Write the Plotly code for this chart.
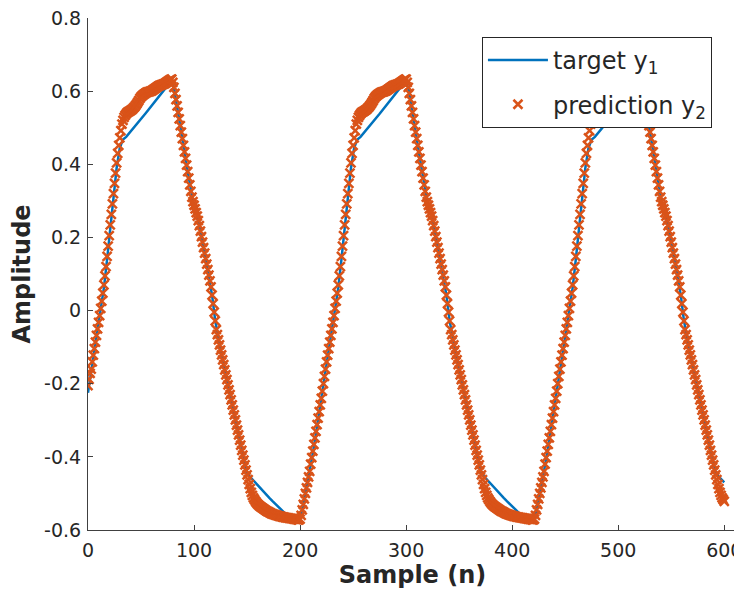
import plotly.graph_objects as go

# sample index n (0..600), one prediction value per sample
sample = list(range(601))

# prediction y2, first period (n = 0..199)
pred_1 = [
    -0.205, -0.188, -0.172, -0.160, -0.140, -0.122, -0.104, -0.086, -0.068, -0.050,
    -0.032, -0.014, 0.006, 0.026, 0.048, 0.070, 0.095, 0.120, 0.148, 0.176,
    0.205, 0.234, 0.263, 0.292, 0.320, 0.348, 0.376, 0.404, 0.430, 0.452,
    0.472, 0.492, 0.510, 0.520, 0.528, 0.534, 0.538, 0.541, 0.543, 0.545,
    0.547, 0.549, 0.551, 0.554, 0.557, 0.561, 0.565, 0.570, 0.575, 0.580,
    0.584, 0.587, 0.590, 0.592, 0.594, 0.596, 0.597, 0.598, 0.599, 0.600,
    0.601, 0.603, 0.605, 0.607, 0.609, 0.611, 0.613, 0.615, 0.616, 0.617,
    0.618, 0.619, 0.620, 0.622, 0.624, 0.626, 0.628, 0.630, 0.632, 0.633,
    0.624, 0.610, 0.594, 0.577, 0.560, 0.542, 0.524, 0.506, 0.488, 0.470,
    0.452, 0.434, 0.416, 0.398, 0.380, 0.362, 0.344, 0.326, 0.310, 0.298,
    0.288, 0.278, 0.268, 0.258, 0.246, 0.232, 0.217, 0.202, 0.187, 0.172,
    0.157, 0.142, 0.127, 0.112, 0.097, 0.081, 0.065, 0.042, 0.019, -0.004,
    -0.028, -0.052, -0.066, -0.080, -0.094, -0.108, -0.121, -0.135, -0.148, -0.162,
    -0.176, -0.189, -0.203, -0.217, -0.230, -0.244, -0.258, -0.272, -0.285, -0.299,
    -0.313, -0.327, -0.340, -0.354, -0.368, -0.382, -0.395, -0.409, -0.422, -0.436,
    -0.449, -0.462, -0.475, -0.487, -0.497, -0.505, -0.512, -0.517, -0.522, -0.526,
    -0.529, -0.532, -0.535, -0.537, -0.539, -0.541, -0.543, -0.545, -0.547, -0.549,
    -0.550, -0.552, -0.553, -0.555, -0.556, -0.557, -0.558, -0.559, -0.560, -0.561,
    -0.562, -0.563, -0.563, -0.564, -0.565, -0.565, -0.566, -0.566, -0.567, -0.567,
    -0.568, -0.568, -0.569, -0.569, -0.570, -0.570, -0.571, -0.571, -0.572, -0.572,
]

# second period (n = 200..420)
pred_2 = [
    -0.570, -0.560, -0.545, -0.530, -0.515, -0.500, -0.485, -0.470, -0.455, -0.440,
    -0.420, -0.402, -0.384, -0.366, -0.348, -0.330, -0.312, -0.294, -0.276, -0.258,
    -0.240, -0.220, -0.200, -0.180, -0.160, -0.140, -0.122, -0.104, -0.086, -0.068,
    -0.050, -0.032, -0.014, 0.006, 0.026, 0.048, 0.070, 0.095, 0.120, 0.148,
    0.176, 0.205, 0.234, 0.263, 0.292, 0.320, 0.348, 0.376, 0.404, 0.430,
    0.452, 0.472, 0.492, 0.510, 0.520, 0.528, 0.534, 0.538, 0.541, 0.543,
    0.545, 0.547, 0.549, 0.551, 0.554, 0.557, 0.561, 0.565, 0.570, 0.575,
    0.580, 0.584, 0.587, 0.590, 0.592, 0.594, 0.596, 0.597, 0.598, 0.599,
    0.600, 0.601, 0.603, 0.605, 0.607, 0.609, 0.611, 0.613, 0.615, 0.616,
    0.617, 0.618, 0.619, 0.620, 0.622, 0.624, 0.626, 0.628, 0.630, 0.632,
    0.633, 0.624, 0.610, 0.594, 0.577, 0.560, 0.542, 0.524, 0.506, 0.488,
    0.470, 0.452, 0.434, 0.416, 0.398, 0.380, 0.362, 0.344, 0.326, 0.310,
    0.298, 0.288, 0.278, 0.268, 0.258, 0.246, 0.232, 0.217, 0.202, 0.187,
    0.172, 0.157, 0.142, 0.127, 0.112, 0.097, 0.081, 0.065, 0.042, 0.019,
    -0.004, -0.028, -0.052, -0.066, -0.080, -0.094, -0.108, -0.121, -0.135, -0.148,
    -0.162, -0.176, -0.189, -0.203, -0.217, -0.230, -0.244, -0.258, -0.272, -0.285,
    -0.299, -0.313, -0.327, -0.340, -0.354, -0.368, -0.382, -0.395, -0.409, -0.422,
    -0.436, -0.449, -0.462, -0.475, -0.487, -0.497, -0.505, -0.512, -0.517, -0.522,
    -0.526, -0.529, -0.532, -0.535, -0.537, -0.539, -0.541, -0.543, -0.545, -0.547,
    -0.549, -0.550, -0.552, -0.553, -0.555, -0.556, -0.557, -0.558, -0.559, -0.560,
    -0.561, -0.562, -0.563, -0.563, -0.564, -0.565, -0.565, -0.566, -0.566, -0.567,
    -0.567, -0.568, -0.568, -0.569, -0.569, -0.570, -0.570, -0.571, -0.571, -0.572,
    -0.572,
]

# third period (n = 421..600)
pred_3 = [
    -0.570, -0.560, -0.545, -0.530, -0.515, -0.500, -0.485, -0.470, -0.455, -0.440,
    -0.420, -0.402, -0.384, -0.366, -0.348, -0.330, -0.312, -0.294, -0.276, -0.258,
    -0.240, -0.220, -0.200, -0.180, -0.160, -0.140, -0.122, -0.104, -0.086, -0.068,
    -0.050, -0.032, -0.014, 0.006, 0.026, 0.048, 0.070, 0.095, 0.120, 0.148,
    0.176, 0.205, 0.234, 0.263, 0.292, 0.320, 0.348, 0.376, 0.404, 0.430,
    0.452, 0.472, 0.492, 0.510, 0.520, 0.528, 0.534, 0.538, 0.541, 0.543,
    0.545, 0.547, 0.549, 0.551, 0.554, 0.557, 0.561, 0.565, 0.570, 0.575,
    0.580, 0.584, 0.587, 0.590, 0.592, 0.594, 0.596, 0.597, 0.598, 0.599,
    0.600, 0.601, 0.603, 0.605, 0.607, 0.609, 0.611, 0.613, 0.615, 0.616,
    0.617, 0.618, 0.619, 0.620, 0.622, 0.624, 0.626, 0.628, 0.630, 0.632,
    0.633, 0.624, 0.610, 0.594, 0.577, 0.560, 0.542, 0.524, 0.506, 0.488,
    0.470, 0.452, 0.434, 0.416, 0.398, 0.380, 0.362, 0.344, 0.326, 0.310,
    0.298, 0.288, 0.278, 0.268, 0.258, 0.246, 0.232, 0.217, 0.202, 0.187,
    0.172, 0.157, 0.142, 0.127, 0.112, 0.097, 0.081, 0.065, 0.042, 0.019,
    -0.004, -0.028, -0.052, -0.066, -0.080, -0.094, -0.108, -0.121, -0.135, -0.148,
    -0.162, -0.176, -0.189, -0.203, -0.217, -0.230, -0.244, -0.258, -0.272, -0.285,
    -0.299, -0.313, -0.327, -0.340, -0.354, -0.368, -0.382, -0.395, -0.409, -0.422,
    -0.436, -0.449, -0.462, -0.475, -0.487, -0.497, -0.505, -0.512, -0.517, -0.522,
]

prediction = pred_1 + pred_2 + pred_3

# target y1, read every 3rd sample (period by period) plus the last sample
target_n = list(range(0, 200, 3)) + list(range(200, 421, 3)) + list(range(421, 599, 3)) + [600]

target_1 = [
    -0.225, -0.168, -0.112, -0.058, -0.002, 0.062, 0.140, 0.225, 0.310, 0.390,
    0.445, 0.468, 0.475, 0.485, 0.495, 0.505, 0.516, 0.527, 0.538, 0.549,
    0.560, 0.570, 0.580, 0.590, 0.601, 0.612, 0.626, 0.610, 0.560, 0.506,
    0.452, 0.398, 0.344, 0.298, 0.268, 0.232, 0.187, 0.142, 0.097, 0.042,
    -0.028, -0.080, -0.121, -0.162, -0.203, -0.244, -0.285, -0.327, -0.368, -0.409,
    -0.445, -0.455, -0.465, -0.475, -0.485, -0.494, -0.503, -0.512, -0.521, -0.530,
    -0.539, -0.548, -0.555, -0.560, -0.563, -0.565, -0.566,
]
target_2 = [
    -0.566, -0.535, -0.490, -0.445, -0.390, -0.335, -0.280,
    -0.225, -0.168, -0.112, -0.058, -0.002, 0.062, 0.140, 0.225, 0.310, 0.390,
    0.445, 0.468, 0.475, 0.485, 0.495, 0.505, 0.516, 0.527, 0.538, 0.549,
    0.560, 0.570, 0.580, 0.590, 0.601, 0.612, 0.626, 0.610, 0.560, 0.506,
    0.452, 0.398, 0.344, 0.298, 0.268, 0.232, 0.187, 0.142, 0.097, 0.042,
    -0.028, -0.080, -0.121, -0.162, -0.203, -0.244, -0.285, -0.327, -0.368, -0.409,
    -0.445, -0.455, -0.465, -0.475, -0.485, -0.494, -0.503, -0.512, -0.521, -0.530,
    -0.539, -0.548, -0.555, -0.560, -0.563, -0.565, -0.566,
]
target_3 = [
    -0.566, -0.535, -0.490, -0.445, -0.390, -0.335, -0.280,
    -0.225, -0.168, -0.112, -0.058, -0.002, 0.062, 0.140, 0.225, 0.310, 0.390,
    0.445, 0.468, 0.475, 0.485, 0.495, 0.505, 0.516, 0.527, 0.538, 0.549,
    0.560, 0.570, 0.580, 0.590, 0.601, 0.612, 0.626, 0.610, 0.560, 0.506,
    0.452, 0.398, 0.344, 0.298, 0.268, 0.232, 0.187, 0.142, 0.097, 0.042,
    -0.028, -0.080, -0.121, -0.162, -0.203, -0.244, -0.285, -0.327, -0.368, -0.409,
    -0.445, -0.455, -0.465, -0.470,
]
target = target_1 + target_2 + target_3

x_ticks = [0, 100, 200, 300, 400, 500, 600]
y_ticks = [-0.6, -0.4, -0.2, 0, 0.2, 0.4, 0.6, 0.8]
y_labels = ["-0.6", "-0.4", "-0.2", "0", "0.2", "0.4", "0.6", "0.8"]

axis_col = "#404040"
text_col = "#262626"

fig = go.Figure()

fig.add_trace(go.Scatter(
    name="target y<sub>1</sub>", x=target_n, y=target, legendgroup="t",
    mode="lines", line=dict(color="#0072BD", width=2.5)))

fig.add_trace(go.Scatter(
    name="prediction y<sub>2</sub>", x=sample, y=prediction, legendgroup="p",
    mode="markers",
    marker=dict(symbol="x-thin", size=9, color="#D95319",
                line=dict(color="#D95319", width=2.5))))

# the page body adds an 8px offset, so margins are shifted to keep the plot in place
fig.update_layout(
    width=742, height=582,
    margin=dict(l=80, r=13, t=10, b=60),
    paper_bgcolor="white", plot_bgcolor="white",
    font=dict(family="DejaVu Sans", color=text_col),
    legend=dict(x=0.607, y=0.963, xanchor="left", yanchor="top",
                bgcolor="white", bordercolor=text_col, borderwidth=1,
                font=dict(size=24), itemwidth=60, tracegroupgap=10),
)

fig.update_xaxes(
    range=[0, 612], tickvals=x_ticks, ticks="inside", ticklen=5,
    tickcolor=axis_col, showline=True, linecolor=axis_col, linewidth=1,
    showgrid=False, zeroline=False, tickfont=dict(size=19, color=text_col),
    automargin=False, ticklabeloverflow="allow", ticklabelstandoff=3,
    title=dict(text="<b>Sample (n)</b>", font=dict(size=24, color=text_col), standoff=6))

fig.update_yaxes(
    range=[-0.6, 0.8], tickvals=y_ticks, ticktext=y_labels, ticks="inside", ticklen=5,
    tickcolor=axis_col, showline=True, linecolor=axis_col, linewidth=1,
    showgrid=False, zeroline=False, tickfont=dict(size=19, color=text_col),
    automargin=False, ticklabeloverflow="allow", ticklabelstandoff=2,
    title=dict(text="<b>Amplitude</b>", font=dict(size=24, color=text_col), standoff=8))

fig.write_html("out.html")
